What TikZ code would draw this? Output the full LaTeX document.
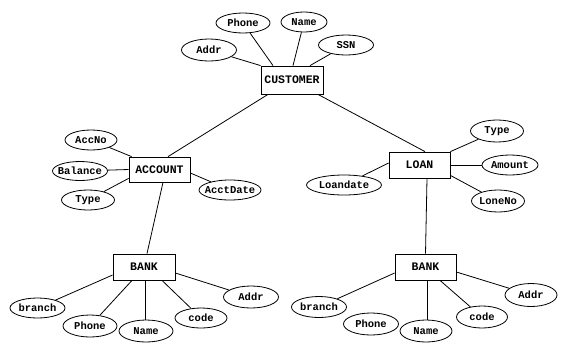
\documentclass[tikz,border=0pt]{standalone}
\usepackage{fontspec}
\setmonofont{Liberation Mono}
\usetikzlibrary{shapes.geometric}
\tikzset{
  ent/.style={draw, rectangle, line width=0.8pt, inner sep=0pt, minimum width=61pt, minimum height=26pt,
    font=\ttfamily\bfseries\fontsize{11.5}{13}\selectfont},
  attr/.style={draw, ellipse, line width=0.8pt, inner sep=0pt,
    font=\ttfamily\bfseries\fontsize{10.5}{12}\selectfont},
  conn/.style={line width=0.8pt}
}
\newcommand{\att}[1]{\makebox[0pt]{#1}}
\begin{document}
\begin{tikzpicture}[x=1pt,y=-1pt]
\useasboundingbox (0,0) rectangle (561,343);
% entities
\node[ent, minimum width=62pt, minimum height=28pt] (cust) at (292,80) {CUSTOMER};
\node[ent, minimum width=61pt, minimum height=25pt] (acc) at (159.5,169.5) {ACCOUNT};
\node[ent, minimum width=61pt, minimum height=26pt] (loan) at (419.5,165) {LOAN};
\node[ent, minimum width=62pt, minimum height=26pt] (bankA) at (144,267) {BANK};
\node[ent, minimum width=61pt, minimum height=26pt] (bankB) at (425.5,267) {BANK};
% customer attributes
\node[attr, minimum width=55pt, minimum height=22pt] (caddr) at (209,50) {\att{Addr}};
\node[attr, minimum width=54pt, minimum height=20pt] (cphone) at (243,23) {\att{Phone}};
\node[attr, minimum width=46pt, minimum height=20pt] (cname) at (304,22) {\att{Name}};
\node[attr, minimum width=55pt, minimum height=20pt] (cssn) at (346,45) {\att{SSN}};
% account attributes
\node[attr, minimum width=52pt, minimum height=20pt] (aaccno) at (91,140) {\att{AccNo}};
\node[attr, minimum width=55pt, minimum height=19pt] (abal) at (80,171) {\att{Balance}};
\node[attr, minimum width=53pt, minimum height=20pt] (atype) at (88,200) {\att{Type}};
\node[attr, minimum width=62pt, minimum height=20pt] (adate) at (230,190) {\att{AcctDate}};
% loan attributes
\node[attr, minimum width=53pt, minimum height=22pt] (ltype) at (497,131) {\att{Type}};
\node[attr, minimum width=56pt, minimum height=20pt] (lamount) at (510,165) {\att{Amount}};
\node[attr, minimum width=53pt, minimum height=22pt] (lloneno) at (498,201) {\att{LoneNo}};
\node[attr, minimum width=75pt, minimum height=20pt] (ldate) at (344,185) {\att{Loandate}};
% bank A attributes
\node[attr, minimum width=55pt, minimum height=20pt] (abranch) at (37.5,308) {\att{branch}};
\node[attr, minimum width=54pt, minimum height=22pt] (aphone) at (90,326) {\att{Phone}};
\node[attr, minimum width=54pt, minimum height=22pt] (aname) at (146,331) {\att{Name}};
\node[attr, minimum width=52pt, minimum height=20pt] (acode) at (201,318) {\att{code}};
\node[attr, minimum width=55pt, minimum height=22pt] (aaddr) at (251,297) {\att{Addr}};
% bank B attributes
\node[attr, minimum width=55pt, minimum height=21pt] (bbranch) at (319,307) {\att{branch}};
\node[attr, minimum width=55pt, minimum height=22pt] (bphone) at (371,324) {\att{Phone}};
\node[attr, minimum width=52pt, minimum height=22pt] (bname) at (426,331) {\att{Name}};
\node[attr, minimum width=51pt, minimum height=22pt] (bcode) at (482,317) {\att{code}};
\node[attr, minimum width=52pt, minimum height=23pt] (baddr) at (531,295) {\att{Addr}};
% relationships
\draw[conn] ([xshift=-24pt]cust.south) -- ([xshift=8.5pt]acc.north);
\draw[conn] ([xshift=26pt]cust.south) -- ([xshift=5.5pt]loan.north);
\draw[conn] ([xshift=3.5pt]acc.south) -- ([xshift=3pt]bankA.north);
\draw[conn] ([xshift=7.5pt]loan.south) -- (bankB.north);
% customer attribute links
\draw[conn] (caddr) -- (cust.north west);
\draw[conn] (cphone) -- ([xshift=-19pt]cust.north);
\draw[conn] (cname) -- ([xshift=1pt]cust.north);
\draw[conn] (cssn) -- ([xshift=18pt]cust.north);
% account attribute links
\draw[conn] (aaccno) -- ([xshift=3pt]acc.north west);
\draw[conn] (abal) -- (acc.west);
\draw[conn] (atype) -- ([yshift=4pt]acc.south west);
\draw[conn] (adate) -- ([yshift=-3.5pt]acc.east);
% loan attribute links
\draw[conn] (ltype) -- (loan.north east);
\draw[conn] (lamount) -- (loan.east);
\draw[conn] (lloneno) -- ([yshift=3pt]loan.south east);
\draw[conn] (ldate) -- ([yshift=2pt]loan.west);
% bank A links
\draw[conn] (abranch) -- ([yshift=-8pt]bankA.west);
\draw[conn] (aphone) -- ([xshift=-12pt]bankA.south);
\draw[conn] ([xshift=1pt]bankA.south) -- ([xshift=1pt]bankA.south |- aname.north);
\draw[conn] (acode) -- ([xshift=18pt]bankA.south);
\draw[conn] (aaddr) -- ([yshift=-6pt]bankA.east);
% bank B links
\draw[conn] (bbranch) -- ([yshift=-6pt]bankB.west);
\draw[conn] ([xshift=1.5pt]bankB.south) -- ([xshift=1.5pt]bankB.south |- bname.north);
\draw[conn] (bcode) -- ([xshift=14.5pt]bankB.south);
\draw[conn] (baddr) -- ([yshift=-5pt]bankB.east);
\end{tikzpicture}
\end{document}
